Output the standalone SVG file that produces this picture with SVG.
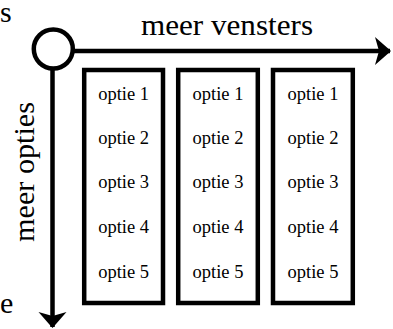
<svg xmlns="http://www.w3.org/2000/svg" width="393" height="329" viewBox="0 0 393 329">
  <style>
    .bg { fill: #ffffff; }
    .line { stroke: #000; stroke-width: 4.5; fill: none; }
    .box { stroke: #000; stroke-width: 4.5; fill: #fff; }
    .big { font-family: "Liberation Serif", "Times New Roman", serif; font-size: 30px; fill: #000; }
    .opt { font-family: "Liberation Serif", "Times New Roman", serif; font-size: 18.5px; fill: #000; text-anchor: middle; }
  </style>
  <defs>
    <marker id="head" viewBox="0 0 16 30" refX="15" refY="15" markerWidth="16" markerHeight="30" markerUnits="userSpaceOnUse" orient="auto">
      <path d="M0,1 L16,15 L0,29 L4,15 Z" fill="#000"/>
    </marker>
  </defs>
  <rect class="bg" x="0" y="0" width="393" height="329"/>

  <!-- single letters at the left edge -->
  <text class="big" x="0" y="22">s</text>
  <text class="big" x="0" y="313">e</text>

  <!-- axes -->
  <g id="connectors">
    <line class="line" x1="72" y1="51" x2="390" y2="51" marker-end="url(#head)"/>
    <line class="line" x1="52.5" y1="68" x2="52.5" y2="327" marker-end="url(#head)"/>
  </g>

  <g id="origin">
    <circle class="line" cx="53.3" cy="49" r="19.5"/>
  </g>

  <g id="label-vensters">
    <text class="big" x="141" y="35" textLength="172" lengthAdjust="spacingAndGlyphs">meer vensters</text>
  </g>
  <g id="label-opties">
    <text class="big" transform="translate(34,242) rotate(-90)" textLength="140" lengthAdjust="spacingAndGlyphs">meer opties</text>
  </g>

  <g id="venster-1">
    <rect class="box" x="84.2" y="70" width="78.8" height="233"/>
    <text class="opt" x="123.6" y="100">optie 1</text>
    <text class="opt" x="123.6" y="143.5">optie 2</text>
    <text class="opt" x="123.6" y="187.5">optie 3</text>
    <text class="opt" x="123.6" y="233">optie 4</text>
    <text class="opt" x="123.6" y="278">optie 5</text>
  </g>
  <g id="venster-2">
    <rect class="box" x="178.2" y="70" width="79.6" height="233"/>
    <text class="opt" x="218" y="100">optie 1</text>
    <text class="opt" x="218" y="143.5">optie 2</text>
    <text class="opt" x="218" y="187.5">optie 3</text>
    <text class="opt" x="218" y="233">optie 4</text>
    <text class="opt" x="218" y="278">optie 5</text>
  </g>
  <g id="venster-3">
    <rect class="box" x="273" y="70" width="79.8" height="233"/>
    <text class="opt" x="313" y="100">optie 1</text>
    <text class="opt" x="313" y="143.5">optie 2</text>
    <text class="opt" x="313" y="187.5">optie 3</text>
    <text class="opt" x="313" y="233">optie 4</text>
    <text class="opt" x="313" y="278">optie 5</text>
  </g>
</svg>
